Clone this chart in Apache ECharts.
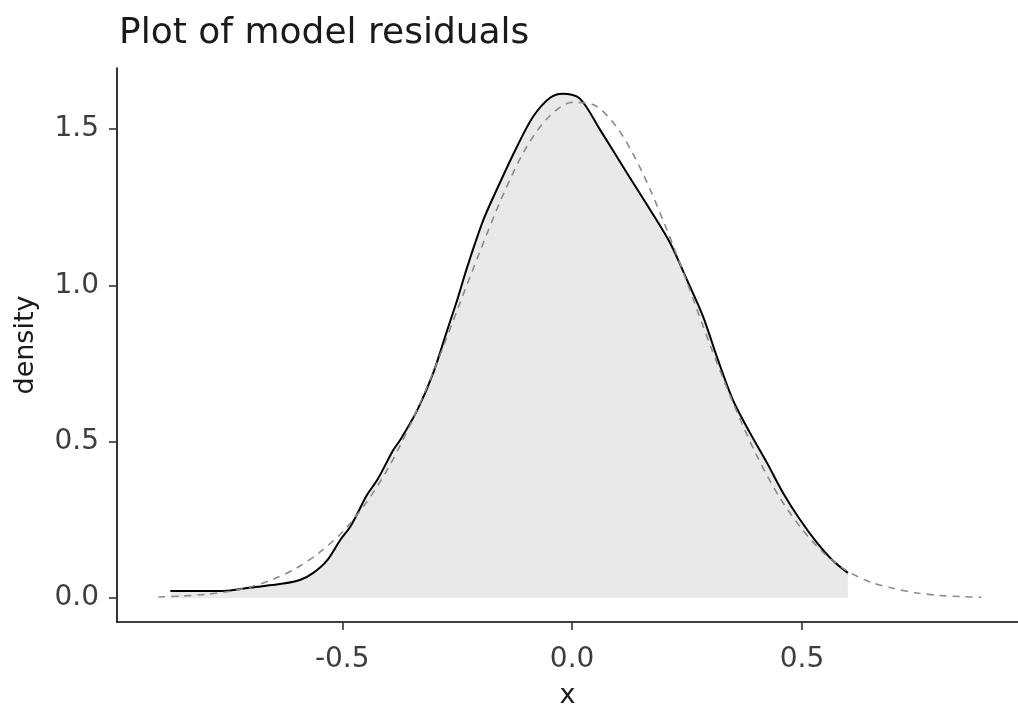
<!DOCTYPE html>
<html>
<head>
<meta charset="utf-8">
<script src="https://cdn.jsdelivr.net/npm/echarts@6/dist/echarts.min.js"></script>
<style>
  html, body { margin: 0; padding: 0; background: #fff; }
  #chart { width: 1018px; height: 707px; }
</style>
</head>
<body>
<div id="chart"></div>
<script>
// kernel density of the residuals (solid line, filled)
const densityX = [-0.874, -0.80, -0.75, -0.70, -0.628, -0.591, -0.563, -0.533, -0.504, -0.483, -0.467,
  -0.446, -0.424, -0.389, -0.374, -0.337, -0.302, -0.272, -0.25, -0.228, -0.193, -0.157, -0.12,
  -0.085, -0.048, -0.02, 0.017, 0.061, 0.119, 0.17, 0.213, 0.25, 0.285, 0.315, 0.35, 0.387,
  0.424, 0.459, 0.496, 0.533, 0.567, 0.60];
const densityY = [0.022, 0.022, 0.023, 0.033, 0.046, 0.058, 0.08, 0.12, 0.186, 0.227, 0.27,
  0.33, 0.377, 0.473, 0.505, 0.60, 0.72, 0.855, 0.953, 1.059, 1.209, 1.328, 1.443,
  1.539, 1.60, 1.613, 1.597, 1.497, 1.36, 1.241, 1.136, 1.017, 0.9, 0.771, 0.633, 0.528,
  0.432, 0.336, 0.25, 0.176, 0.12, 0.08];

// normal reference curve (dashed)
const normalX = [-0.90, -0.85, -0.80, -0.75, -0.70, -0.65, -0.60, -0.55, -0.50, -0.45, -0.40,
  -0.35, -0.30, -0.25, -0.20, -0.15, -0.10, -0.05, 0.00, 0.05, 0.10, 0.15, 0.20, 0.25, 0.30,
  0.35, 0.40, 0.45, 0.50, 0.55, 0.60, 0.65, 0.70, 0.75, 0.80, 0.85, 0.89];
const normalY = [0.003, 0.006, 0.011, 0.02, 0.035, 0.06, 0.095, 0.145, 0.21, 0.30, 0.415,
  0.56, 0.73, 0.92, 1.11, 1.29, 1.44, 1.54, 1.585, 1.575, 1.50, 1.37, 1.20, 1.01, 0.81,
  0.625, 0.46, 0.325, 0.22, 0.14, 0.085, 0.05, 0.03, 0.016, 0.008, 0.004, 0.002];

const xTicks = [-0.5, 0, 0.5];
const yTicks = [0, 0.5, 1.0, 1.5];

const FONT = "'DejaVu Sans', sans-serif";

let chart = echarts.init(document.getElementById("chart"));

let option = {
  backgroundColor: "#ffffff",
  animation: false,
  title: {
    text: "Plot of model residuals",
    left: 114,
    top: 11,
    textStyle: { fontFamily: FONT, fontSize: 36, fontWeight: "normal", color: "#1a1a1a" }
  },
  grid: { left: 117, right: 0, top: 68, bottom: 85, outerBoundsMode: "none", containLabel: false },
  xAxis: {
    type: "value",
    min: -0.99,
    max: 0.97,
    name: "x",
    nameLocation: "middle",
    nameGap: 60,
    nameTextStyle: { fontFamily: FONT, fontSize: 27, color: "#1a1a1a" },
    axisLine: { onZero: false, lineStyle: { color: "#000", width: 1.6 } },
    axisTick: { show: true, customValues: xTicks, length: 8, lineStyle: { color: "#333", width: 1.6 } },
    axisLabel: {
      customValues: xTicks,
      margin: 24,
      fontFamily: FONT, fontSize: 28, color: "#3d3d3d",
      formatter: v => v.toFixed(1)
    },
    splitLine: { show: false }
  },
  yAxis: {
    type: "value",
    min: -0.077,
    max: 1.695,
    name: "density",
    nameLocation: "middle",
    nameGap: 78,
    nameRotate: 90,
    nameTextStyle: { fontFamily: FONT, fontSize: 27, color: "#1a1a1a" },
    axisLine: { show: true, onZero: false, lineStyle: { color: "#000", width: 1.6 } },
    axisTick: { show: true, customValues: yTicks, length: 8, lineStyle: { color: "#333", width: 1.6 } },
    axisLabel: {
      customValues: yTicks,
      margin: 18,
      fontFamily: FONT, fontSize: 28, color: "#3d3d3d",
      formatter: v => v.toFixed(1)
    },
    splitLine: { show: false }
  },
  series: [
    {
      name: "density",
      type: "line",
      data: densityX.map((x, i) => [x, densityY[i]]),
      showSymbol: false,
      smooth: 0.3,
      lineStyle: { color: "#000", width: 2 },
      areaStyle: { color: "#e9e9e9", opacity: 1 },
      z: 2
    },
    {
      name: "normal",
      type: "line",
      data: normalX.map((x, i) => [x, normalY[i]]),
      showSymbol: false,
      smooth: 0.3,
      lineStyle: { color: "#8a8a8a", width: 1.6, type: [7, 6] },
      z: 3
    }
  ]
};

chart.setOption(option);
</script>
</body>
</html>
